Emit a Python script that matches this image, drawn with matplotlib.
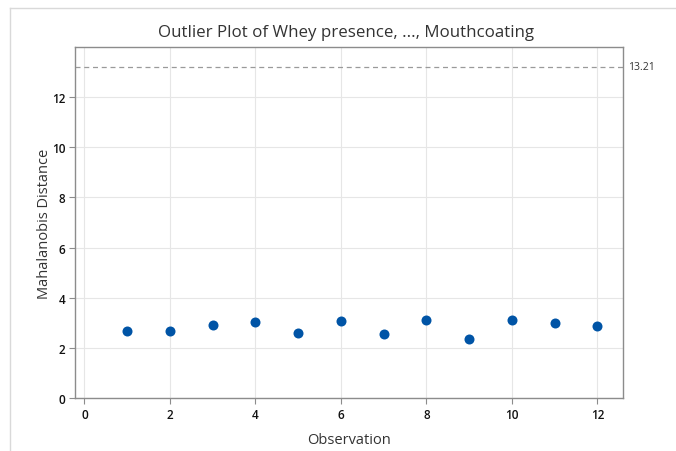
import matplotlib.pyplot as plt
from matplotlib.lines import Line2D
import numpy as np

# Mahalanobis distance for each observation
observation = [1, 2, 3, 4, 5, 6, 7, 8, 9, 10, 11, 12]
distance = [2.68, 2.68, 2.91, 3.05, 2.60, 3.09, 2.57, 3.13, 2.37, 3.13, 3.01, 2.87]
cutoff = 13.21

plt.rcParams['font.family'] = ['Open Sans', 'DejaVu Sans']

fig = plt.figure(figsize=(6.76, 4.52), dpi=100)
ax = fig.add_axes([75 / 676, 1 - 399 / 452, (623 - 75) / 676, (399 - 48) / 452])

# thin frame line around the graph window
fig.add_artist(Line2D([10 / 676, 10 / 676], [0, 1 - 9 / 452], color='#d9d9d9', lw=1))
fig.add_artist(Line2D([10 / 676, 1], [1 - 9 / 452, 1 - 9 / 452], color='#d9d9d9', lw=1))

ax.scatter(observation, distance, s=52, color='#0054a6', zorder=3, linewidths=0)
ax.axhline(cutoff, color='#9a9a9a', lw=0.9, ls=(0, (4, 3)), zorder=2)
ax.text(1.01, cutoff, f'{cutoff:.2f}', transform=ax.get_yaxis_transform(),
        va='center', ha='left', fontsize=7.5, color='#333333')

ax.set_xlim(-0.22, 12.6)
ax.set_ylim(0, 14)
ax.set_xticks(np.arange(0, 13, 2))
ax.set_yticks(np.arange(0, 13, 2))
ax.grid(True, color='#e6e6e6', lw=0.8, zorder=0)
ax.set_axisbelow(True)

for s in ax.spines.values():
    s.set_color('#8c8c8c')
    s.set_linewidth(1.0)
ax.tick_params(axis='both', direction='out', length=4, width=0.8, color='#8c8c8c',
               labelsize=8.5, labelcolor='#111111', pad=3)
for lab in ax.get_xticklabels() + ax.get_yticklabels():
    lab.set_fontweight('semibold')

ax.set_xlabel('Observation', fontsize=10.5, color='#333333', labelpad=8)
ax.set_ylabel('Mahalanobis Distance', fontsize=10.5, color='#333333', labelpad=0)
fig.text(346 / 676, 1 - 33 / 452, 'Outlier Plot of Whey presence, ..., Mouthcoating',
         ha='center', va='center', fontsize=12.2, color='#333333')

fig.savefig('out.png', dpi=100)
